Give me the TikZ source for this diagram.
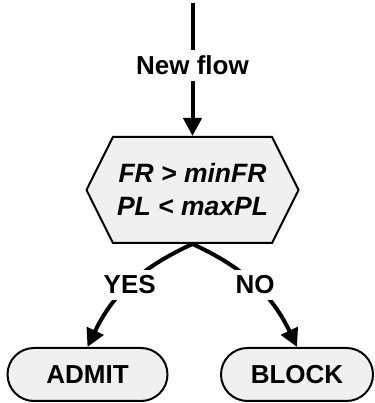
\documentclass[tikz,border=0pt]{standalone}
\usepackage{fontspec}
\setmainfont{Liberation Sans}
\usetikzlibrary{positioning,shapes.symbols,shapes.misc,arrows.meta}
\definecolor{boxgray}{RGB}{240,240,240}

\begin{document}
\begin{tikzpicture}[x=1pt,y=1pt,
    font=\fontsize{26}{31}\selectfont\bfseries,
    flow/.style={line width=4pt,-{Triangle[length=18pt,width=18pt]}},
    decision/.style={shape=signal,signal to=west and east,signal pointer angle=127,
        draw,line width=2pt,fill=boxgray,minimum width=212pt,minimum height=106pt,
        inner sep=0pt,align=center,font=\fontsize{26.5}{33}\selectfont\bfseries\itshape},
    outcome/.style={rounded rectangle,draw,line width=2pt,fill=boxgray,
        minimum height=53pt,inner sep=0pt},
    lbl/.style={fill=white,inner sep=6pt}]
    \useasboundingbox (0,0) rectangle (374,403);
    \coordinate (src) at (192.5,400);
    \node[decision] (cond) at (192.5,213) {FR > minFR\\PL < maxPL};
    \node[outcome,minimum width=160pt] (admit) at (87.5,28.5) {ADMIT};
    \node[outcome,minimum width=152pt] (block) at (297,28.5) {BLOCK};
    \path[flow] (src) edge node[lbl,pos=0.47] {New flow} (cond.north)
                (cond.south) edge [bend right=20] node[lbl] {YES} (admit.north)
                             edge [bend left=20] node[lbl] {NO} (block.north);
\end{tikzpicture}
\end{document}
